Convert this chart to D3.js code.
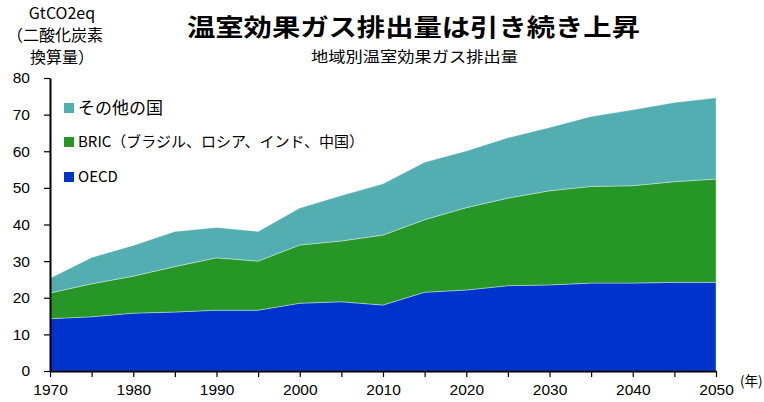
<!DOCTYPE html>
<html><head><meta charset="utf-8">
<script src="https://cdn.jsdelivr.net/npm/d3@7"></script>
<style>
body{margin:0;background:#fff;}
svg{display:block;}
</style></head>
<body>
<svg id="chart" width="764" height="402"></svg>
<script>
const years = [1970,1975,1980,1985,1990,1995,2000,2005,2010,2015,2020,2025,2030,2035,2040,2045,2050];
const oecd  = [14.3,14.8,15.8,16.1,16.6,16.6,18.5,18.9,18.0,21.5,22.1,23.3,23.5,24.0,24.0,24.2,24.2];
const bric  = [7.0,9.0,10.1,12.4,14.3,13.4,15.9,16.6,19.1,19.8,22.5,23.9,25.7,26.4,26.6,27.5,28.2];
const other = [4.0,7.2,8.4,9.6,8.3,8.1,10.1,12.4,14.0,15.7,15.5,16.5,17.3,19.1,20.7,21.6,22.2];
const seriesNames = ["OECD","BRIC（ブラジル、ロシア、インド、中国）","その他の国"];
const seriesColors = ["#0033CC","#269726","#53AEB1"];
const yTicks = [0,10,20,30,40,50,60,70,80];
const xTicks = [1970,1975,1980,1985,1990,1995,2000,2005,2010,2015,2020,2025,2030,2035,2040,2045,2050];
const title = "温室効果ガス排出量は引き続き上昇";
const subtitle = "地域別温室効果ガス排出量";
const yLabel = ["GtCO2eq","（二酸化炭素","換算量）"];
const xUnit = "(年)";

const svg = d3.select("#chart");
const mLeft = 50, mRight = 716, mTop = 78, mBottom = 371;
const x = d3.scaleLinear().domain([1970,2050]).range([mLeft,mRight]);
const y = d3.scaleLinear().domain([0,80]).range([mBottom,mTop]);

const rows = years.map((yr,i)=>({year:yr, s0:oecd[i], s1:bric[i], s2:other[i]}));
const stack = d3.stack().keys(["s0","s1","s2"]);
const layers = stack(rows);
const area = d3.area().x(d=>x(d.data.year)).y0(d=>y(d[0])).y1(d=>y(d[1]));

svg.append("g").selectAll("path").data(layers).join("path")
  .attr("d",area)
  .attr("fill",(d,i)=>seriesColors[i])
  .attr("stroke","rgba(255,255,255,0.45)")
  .attr("stroke-width",0.8);

const numFont = "'Liberation Sans Narrow','Arial Narrow','Liberation Sans',sans-serif";
const jpFont = "'Noto Sans CJK JP','Noto Sans',sans-serif";

// Y axis
const yAxis = svg.append("g").attr("transform",`translate(${mLeft},0)`)
  .call(d3.axisLeft(y).tickValues(yTicks).tickSize(6).tickSizeOuter(0).tickPadding(14));
yAxis.select(".domain").attr("stroke","#000").attr("stroke-width",2);
yAxis.selectAll(".tick line").attr("stroke","#000").attr("stroke-width",1.2);
yAxis.selectAll(".tick text").attr("font-family",numFont).attr("font-size",15.5).attr("fill","#000");

// X axis
const xAxis = svg.append("g").attr("transform",`translate(0,${mBottom})`)
  .call(d3.axisBottom(x).tickValues(xTicks).tickSize(6).tickSizeOuter(0).tickPadding(7)
    .tickFormat(d=> d%10===0 ? String(d) : ""));
xAxis.select(".domain").attr("stroke","#000").attr("stroke-width",2);
xAxis.selectAll(".tick line").attr("stroke","#000").attr("stroke-width",1.2);
xAxis.selectAll(".tick text").attr("font-family",numFont).attr("font-size",15.5).attr("fill","#000");

// x unit
svg.append("text").attr("x",740).attr("y",386).attr("font-family",jpFont).attr("font-size",13.5)
  .attr("fill","#000").text(xUnit);

// Title
svg.append("text").attr("x",187).attr("y",36).attr("font-family",jpFont).attr("font-weight","bold")
  .attr("font-size",24).attr("fill","#000")
  .attr("textLength",453).attr("lengthAdjust","spacingAndGlyphs").text(title);
svg.append("text").attr("x",311).attr("y",62).attr("font-family",jpFont)
  .attr("font-size",14.5).attr("fill","#000")
  .attr("textLength",207).attr("lengthAdjust","spacingAndGlyphs").text(subtitle);

// Y label
svg.append("g").selectAll("text").data(yLabel).join("text")
  .attr("x",(d,i)=> i===1 ? 55 : 62).attr("y",(d,i)=>19+i*22)
  .attr("text-anchor","middle").attr("font-family",jpFont).attr("font-size",16).attr("fill","#000")
  .text(d=>d);

// Legend (top to bottom: その他の国, BRIC, OECD)
const legendItems = [2,1,0];
const lg = svg.append("g");
legendItems.forEach((si,j)=>{
  const cy = [108,142,177][j];
  lg.append("rect").attr("x",64).attr("y",cy-5).attr("width",10).attr("height",10).attr("fill",seriesColors[si]);
  lg.append("text").attr("x",78).attr("y",cy).attr("dy","0.35em")
    .attr("font-family",jpFont).attr("font-size", j===0 ? 17 : 15).attr("fill","#000")
    .text(seriesNames[si]);
});
</script>
</body></html>
